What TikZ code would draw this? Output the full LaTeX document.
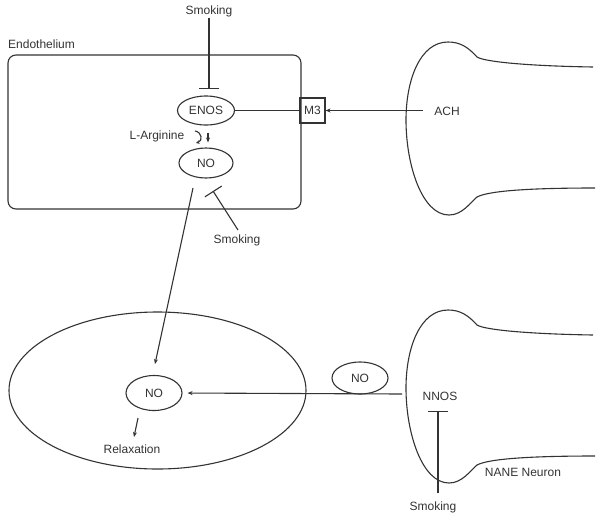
\documentclass[tikz,border=0pt]{standalone}
\usepackage{fontspec}
\setmainfont{Liberation Sans}
\usetikzlibrary{shapes.geometric,arrows.meta}
\definecolor{ink}{HTML}{333333}
\begin{document}
\begin{tikzpicture}[x=1pt,y=-1pt,
  every node/.style={text=ink, font=\fontsize{12}{14}\selectfont},
  lbl/.style={inner sep=1pt},
  oval/.style={ellipse, draw=ink, line width=1.1pt, inner sep=0pt},
  conn/.style={draw=ink, line width=1.1pt},
  arr/.style={conn, -{Stealth[length=5pt,width=4pt]}},
  inhib/.style={conn, -{Bar[width=20pt]}},
  neuron/.style={draw=ink, line width=1.1pt},
]
\useasboundingbox (0,0) rectangle (602,520);

% endothelium cell
\node[lbl, anchor=west] (endo) at (7,44) {Endothelium};
\draw[conn, rounded corners=8pt] (8,55) rectangle (301,209);
\node[oval, minimum width=57pt, minimum height=29pt] (enos) at (206,110.5) {ENOS};
\node[oval, minimum width=54pt, minimum height=30pt] (no1) at (206,163) {NO};
\node[draw=ink, line width=1.1pt, minimum width=25pt, minimum height=25pt, inner sep=0pt] (m3) at (312.5,110.5) {M3};
\node[lbl] (smoke1) at (209,11) {Smoking};
\node[lbl] (larg) at (157,136) {L-Arginine};
\node[lbl] (smoke2) at (237,240) {Smoking};
\node[lbl] (ach) at (447,111) {ACH};

% smooth muscle cell
\node[oval, minimum width=297pt, minimum height=157pt] (cell) at (157.5,390.5) {};
\node[oval, minimum width=56pt, minimum height=35pt] (no2) at (154,393) {NO};
\node[lbl] (relax) at (132,449) {Relaxation};

% neuron side
\node[oval, minimum width=56pt, minimum height=32pt] (no3) at (360,378) {NO};
\node[lbl] (nnos) at (440,396) {NNOS};
\node[lbl] (smoke3) at (433,507) {Smoking};
\node[lbl] (nane) at (523,472) {NANE Neuron};

% neuron shapes
\foreach \dy in {0,268} {
\draw[neuron] (593,67+\dy) .. controls (530,66+\dy) and (485,62+\dy) .. (477,57+\dy)
  .. controls (468,47+\dy) and (460,42+\dy) .. (448,42+\dy)
  .. controls (420,42+\dy) and (406,80+\dy) .. (406,120+\dy)
  .. controls (406,165+\dy) and (422,215+\dy) .. (449,215+\dy)
  .. controls (462,215+\dy) and (470,203+\dy) .. (477,197+\dy)
  .. controls (490,190+\dy) and (540,188+\dy) .. (595,188+\dy);
}

% coordinates for free ends
\coordinate (inh1) at (209,89);
\coordinate (inh2) at (213,191);
\coordinate (inh3) at (438,411);
\coordinate (s3top) at (438,493);
\coordinate (nostart) at (193,188);
\coordinate (noend) at (155,364);
\coordinate (nnline) at (402,394);
\coordinate (achline) at (423,110.5);
\coordinate (rel1) at (138,418);
\coordinate (rel2) at (134,437);
\coordinate (la1) at (195,131);
\coordinate (la2) at (196,143);
\coordinate (s2a) at (238,230);

% connectors
\draw[inhib] (smoke1.south) -- (inh1);
\draw[conn] (enos.east) -- (m3.west);
\draw[arr] (achline) -- (m3.east);
\draw[arr, shorten <=7pt, shorten >=5pt] ([xshift=2pt]enos.south) -- ([xshift=2pt]no1.north);
\draw[conn, -{Stealth[length=3.5pt,width=3.5pt]}] (la1) .. controls (202,132) and (203,141) .. (la2);
\draw[inhib] (s2a) -- (inh2);
\draw[arr] (nostart) -- (noend);
\draw[arr, shorten >=5pt] (nnline) -- (no2.east);
\draw[inhib] (s3top) -- (inh3);
\draw[arr] (rel1) -- (rel2);
\end{tikzpicture}
\end{document}
